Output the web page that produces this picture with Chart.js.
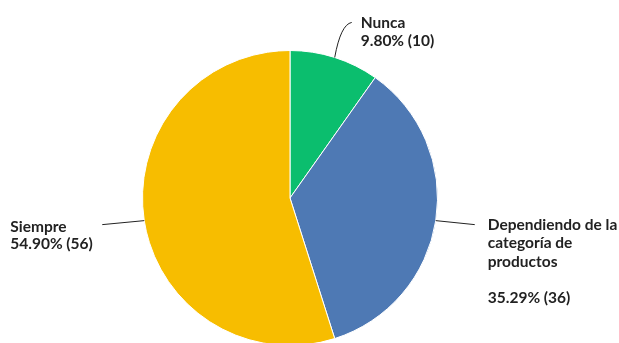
<!DOCTYPE html>
<html>
<head>
<meta charset="utf-8">
<script src="https://cdn.jsdelivr.net/npm/chart.js@4.4.0/dist/chart.umd.min.js"></script>
<style>
  html, body { margin: 0; padding: 0; background: #fff; overflow: hidden; }
  #wrap { position: relative; width: 619px; height: 400px; }
</style>
</head>
<body>
<div id="wrap"><canvas id="pieChart"></canvas></div>
<script>
const labels = ['Nunca', 'Dependiendo de la categoría de productos', 'Siempre'];
const counts = [10, 36, 56];
const percents = ['9.80%', '35.29%', '54.90%'];
const labelLines = [
  ['Nunca'],
  ['Dependiendo de la', 'categoría de', 'productos', ''],
  ['Siempre']
];

const COLORS = {
  green: 'rgb(11, 190, 110)',
  blue: 'rgb(78, 121, 180)',
  yellow: 'rgb(247, 189, 0)'
};

// leader line end / text position, relative to the slice's outer mid point
const calloutOpts = [
  { dx: 17, dy: -35, tx: 26, ty: -34, lh: 18, curve: true },
  { dx: 39, dy: 4, tx: 52, ty: 4.5, lh: 18.3 },
  { dx: -42, dy: 4, tx: -134, ty: 6, lh: 17.7 }
];

const calloutPlugin = {
  id: 'callouts',
  afterDraw(chart) {
    const ctx = chart.ctx;
    const meta = chart.getDatasetMeta(0);
    ctx.save();
    ctx.font = '700 15.5px Lato, sans-serif';
    ctx.fillStyle = '#222';
    ctx.strokeStyle = '#222';
    ctx.lineWidth = 1;
    ctx.textBaseline = 'middle';
    ctx.textAlign = 'left';
    meta.data.forEach((arc, i) => {
      const p = arc.getProps(['x', 'y', 'startAngle', 'endAngle', 'outerRadius'], true);
      const mid = (p.startAngle + p.endAngle) / 2;
      const ax = p.x + Math.cos(mid) * p.outerRadius;
      const ay = p.y + Math.sin(mid) * p.outerRadius;
      const o = calloutOpts[i];
      const ex = ax + o.dx, ey = ay + o.dy;
      ctx.beginPath();
      ctx.moveTo(ax, ay);
      if (o.curve) {
        ctx.quadraticCurveTo(ax + 6, ey + 2, ex, ey);
      } else {
        ctx.lineTo(ex, ey);
      }
      ctx.stroke();
      const lines = labelLines[i].concat([percents[i] + ' (' + counts[i] + ')']);
      let y = ay + o.ty;
      lines.forEach(t => {
        ctx.fillText(t, ax + o.tx, y);
        y += o.lh;
      });
    });
    ctx.restore();
  }
};

new Chart(document.getElementById('pieChart'), {
  type: 'pie',
  data: {
    labels: labels,
    datasets: [{
      data: counts,
      backgroundColor: [COLORS.green, COLORS.blue, COLORS.yellow],
      borderColor: '#fff',
      borderWidth: 1
    }]
  },
  options: {
    responsive: true,
    maintainAspectRatio: false,
    animation: false,
    layout: { padding: { top: 50, bottom: 54, left: 0, right: 39 } },
    plugins: {
      legend: { display: false },
      tooltip: { enabled: false }
    }
  },
  plugins: [calloutPlugin]
});
</script>
</body>
</html>
